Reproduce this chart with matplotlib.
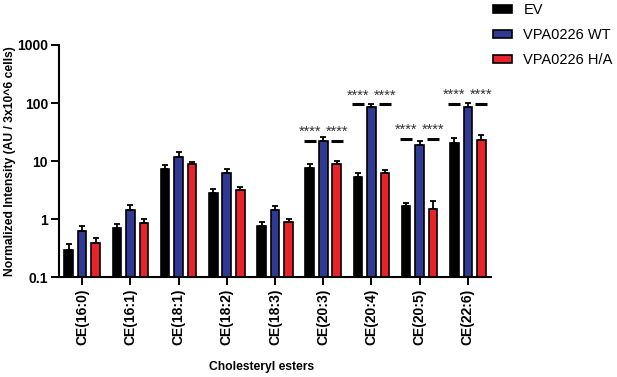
import numpy as np
import matplotlib
matplotlib.use("Agg")
import matplotlib.pyplot as plt

plt.rcParams['font.family'] = ['Liberation Sans', 'DejaVu Sans']

categories = ['CE(16:0)', 'CE(16:1)', 'CE(18:1)', 'CE(18:2)', 'CE(18:3)',
              'CE(20:3)', 'CE(20:4)', 'CE(20:5)', 'CE(22:6)']
series_names = ['EV', 'VPA0226 WT', 'VPA0226 H/A']

ev = [0.30, 0.70, 7.2, 2.84, 0.77, 7.5, 5.4, 1.66, 20.2]
ev_err = [0.08, 0.13, 1.4, 0.5, 0.13, 1.3, 0.9, 0.25, 4.8]
wt = [0.63, 1.46, 11.9, 6.3, 1.42, 22.2, 86, 18.9, 86]
wt_err = [0.14, 0.30, 2.7, 1.1, 0.24, 3.8, 11, 3.3, 15]
ha = [0.39, 0.86, 8.9, 3.24, 0.88, 8.9, 6.2, 1.50, 22.8]
ha_err = [0.09, 0.15, 0.7, 0.37, 0.14, 1.1, 0.8, 0.6, 5.0]

# significance marks (over EV and H/A bars) for these groups
sig_groups = [5, 6, 7, 8]
sig_levels = [22, 95, 24, 98]
sig_text = '****'

colors = ['black', '#303a92', '#e8242a']

fig = plt.figure(figsize=(6.17, 3.77), dpi=100)
ax = fig.add_axes([59 / 617, 1 - 277.3 / 377, (491 - 59) / 617, (277.3 - 45) / 377])

x = np.arange(len(categories))
offsets = [-0.28, 0.0, 0.28]
width = 0.18
for vals, errs, off, c, name in zip([ev, wt, ha], [ev_err, wt_err, ha_err],
                                    offsets, colors, series_names):
    ax.bar(x + off, vals, width, color=c, edgecolor='black', linewidth=1.2,
           label=name, zorder=2)
    ax.errorbar(x + off, vals, yerr=[np.zeros(len(vals)), errs], fmt='none',
                ecolor='black', elinewidth=1.3, capsize=2.3, capthick=1.3, zorder=3)

for g, lvl in zip(sig_groups, sig_levels):
    for off in (offsets[0], offsets[2]):
        ax.plot([g + off - 0.125, g + off + 0.125], [lvl, lvl], color='black',
                lw=2.2, solid_capstyle='butt', zorder=4)
        ax.annotate(sig_text, (g + off, lvl), xytext=(0, 1.5), textcoords='offset points',
                    ha='center', va='bottom', fontsize=10.5, color='#333333')

ax.set_yscale('log')
ax.set_ylim(0.1, 1000)
ax.set_xlim(-0.48, 8.48)
ax.set_yticks([0.1, 1, 10, 100, 1000])
ax.set_yticklabels(['0.1', '1', '10', '100', '1000'], fontweight='bold', fontsize=10)
ax.yaxis.set_minor_locator(matplotlib.ticker.NullLocator())
ax.set_xticks(x)
ax.set_xticklabels(categories, rotation=90, fontweight='bold', fontsize=10)
ax.tick_params(axis='both', direction='out', length=6, width=1.4, pad=2)

for s in ['top', 'right']:
    ax.spines[s].set_visible(False)
for s in ['left', 'bottom']:
    ax.spines[s].set_linewidth(1.5)

ax.set_ylabel('Normalized Intensity (AU / 3x10^6 cells)', fontweight='bold', fontsize=8.7)
ax.yaxis.set_label_coords(-0.1, 0.5)
ax.set_xlabel('Cholesteryl esters', fontweight='bold', fontsize=8.7)
ax.xaxis.set_label_coords(0.47, -0.36)

fig.legend(loc='upper left', bbox_to_anchor=(492.7 / 617, 1 - 3 / 377), frameon=False,
           fontsize=10.5, handlelength=1.35, handleheight=0.45, handletextpad=0.75,
           labelspacing=0.75, borderpad=0, borderaxespad=0)

fig.savefig('out.png', dpi=100)
